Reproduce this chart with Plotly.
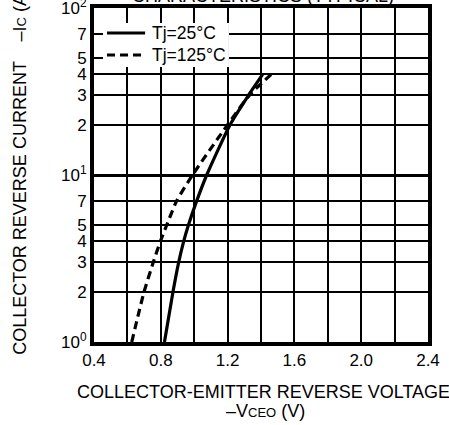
import plotly.graph_objects as go

# Data
current_levels = [1, 2, 3, 4, 5, 7, 10, 20, 30, 40]           # -Ic (A)
v_tj25 = [0.822, 0.873, 0.907, 0.937, 0.965, 1.015, 1.075, 1.215, 1.325, 1.41]  # -VCEO (V)
v_tj125 = [0.626, 0.70, 0.755, 0.797, 0.835, 0.895, 0.99, 1.2, 1.33, 1.46]     # -VCEO (V)

series_names = ["Tj=25°C", "Tj=125°C"]
series_dash = ["solid", "8px,5px"]

x_tickvals = [0.4, 0.6, 0.8, 1.0, 1.2, 1.4, 1.6, 1.8, 2.0, 2.2, 2.4]
x_ticktext = ["0.4", "", "0.8", "", "1.2", "", "1.6", "", "2.0", "", "2.4"]
y_tickvals = [1, 2, 3, 4, 5, 7, 10, 20, 30, 40, 50, 70, 100]
y_ticktext = ["10<sup>0</sup>", "2", "3", "4", "5", "7", "10<sup>1</sup>",
              "2", "3", "4", "5", "7", "10<sup>2</sup>"]

FONT = "Liberation Sans, Arial, sans-serif"

fig = go.Figure()
for name, xs, dash in zip(series_names, [v_tj25, v_tj125], series_dash):
    fig.add_trace(go.Scatter(x=xs, y=current_levels, mode="lines", name=name,
                             line=dict(color="black", width=3.2, dash=dash,
                                       shape="spline", smoothing=0.6)))

# Hand-built legend (white box, sample lines, labels) in paper coordinates
shapes = [dict(type="rect", xref="paper", yref="paper", x0=0.027, x1=0.404, y0=0.823, y1=0.955,
               fillcolor="white", line=dict(width=0), layer="above")]
legend_ann = []
for i, (name, dash) in enumerate(zip(series_names, series_dash)):
    yy = 0.925 - i * 0.066
    shapes.append(dict(type="line", xref="paper", yref="paper", x0=0.039, x1=0.153, y0=yy, y1=yy,
                       line=dict(color="black", width=3, dash=dash), layer="above"))
    legend_ann.append(dict(text=name, xref="paper", yref="paper", x=0.168, y=yy,
                           xanchor="left", yanchor="middle", showarrow=False,
                           font=dict(size=17.5)))

fig.update_layout(
    width=449, height=425,
    margin=dict(l=94, r=21, t=8, b=83, autoexpand=False),
    paper_bgcolor="white", plot_bgcolor="white",
    font=dict(family=FONT, size=17, color="black"),
    showlegend=False,
    shapes=shapes,
    annotations=legend_ann + [
        dict(text="COLLECTOR-EMITTER REVERSE VOLTAGE",
             xref="paper", yref="paper", x=0.507, y=-0.15, xanchor="center", yanchor="middle",
             showarrow=False, font=dict(size=18)),
        dict(text="–V<span style='font-size:13px'>CEO</span> (V)",
             xref="paper", yref="paper", x=0.512, y=-0.207, xanchor="center", yanchor="middle",
             showarrow=False, font=dict(size=18)),
        dict(text="COLLECTOR REVERSE CURRENT    –I<span style='font-size:13px'>C</span> (A)",
             xref="paper", yref="paper", x=-0.222, y=0.512, xanchor="center", yanchor="middle",
             textangle=-90, showarrow=False, font=dict(size=18)),
        dict(text="CHARACTERISTICS (TYPICAL)",
             xref="paper", yref="paper", x=0.506, y=1.036, xanchor="center", yanchor="middle",
             showarrow=False, font=dict(size=18)),
    ],
)

fig.update_xaxes(range=[0.4, 2.4], tickvals=x_tickvals, ticktext=x_ticktext,
                 showgrid=True, gridcolor="black", gridwidth=2,
                 showline=True, linecolor="black", linewidth=4, mirror=True,
                 ticks="", zeroline=False, tickfont=dict(size=17), automargin=False,
                 ticklabeloverflow="allow")
fig.update_yaxes(type="log", range=[0, 2], tickvals=y_tickvals, ticktext=y_ticktext,
                 showgrid=True, gridcolor="black", gridwidth=2,
                 minor=dict(tickvals=[10], showgrid=True, gridcolor="black", gridwidth=3),
                 showline=True, linecolor="black", linewidth=4, mirror=True,
                 ticks="", zeroline=False, tickfont=dict(size=17), automargin=False,
                 ticklabeloverflow="allow")

fig.write_html("out.html", config={"displayModeBar": False},
               post_script="document.body.style.margin='0';document.body.style.overflow='hidden';")
